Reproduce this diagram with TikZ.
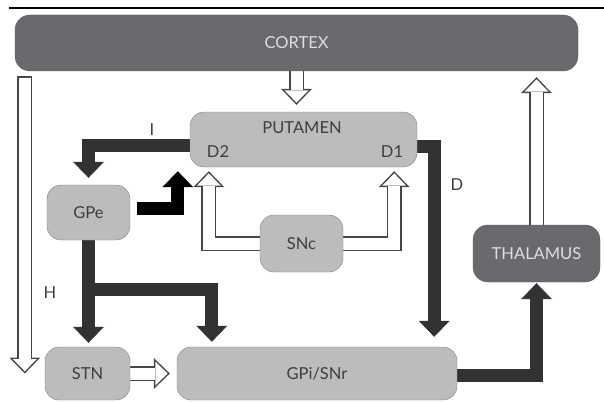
\documentclass[tikz,border=0pt]{standalone}
\usepackage{fontspec}
\setmainfont{Lato}
\usetikzlibrary{arrows.meta,backgrounds,positioning}
\definecolor{boxdark}{RGB}{106,106,110}
\definecolor{boxlight}{RGB}{188,188,190}
\definecolor{boxedge}{RGB}{128,128,130}
\definecolor{boxtext}{RGB}{222,222,222}
\definecolor{labelgray}{RGB}{62,62,62}
\definecolor{fatgray}{RGB}{50,50,50}
\definecolor{edgegray}{RGB}{70,70,70}

% hollow block arrow: outline pass, then white pass
\newcommand{\openarrow}[3][0pt]{%
  \draw[hollowedge,shorten >=#2] #3;
  \draw[hollowfill,shorten >=#2+2.16pt,shorten <=#1] #3;}

\begin{document}
\begin{tikzpicture}[x=1pt,y=-1pt,font=\fontsize{16.5}{18}\selectfont,
  darkbox/.style={draw=boxdark!85!black,fill=boxdark,text=boxtext,rounded corners=15pt,inner sep=0pt},
  lightbox/.style={draw=boxedge,fill=boxlight,text=labelgray,rounded corners=14pt,inner sep=0pt},
  fat/.style={line width=13pt,draw=fatgray,-{Triangle[width=31pt,length=16pt,line width=0pt]}},
  hollowedge/.style={line width=15pt,draw=edgegray,-{Triangle[width=31pt,length=16pt,line width=0pt]}},
  hollowfill/.style={line width=12pt,draw=white,-{Triangle[width=23.9pt,length=12.34pt,line width=0pt]}}]
  \useasboundingbox (0,0) rectangle (604,401);
  \draw[line width=2pt] (9,8) -- (604,8);

  % boxes
  \node[darkbox,minimum width=563pt,minimum height=56pt] (cortex) at (296.5,43) {CORTEX};
  \node[lightbox,minimum width=227pt,minimum height=55pt] (putamen) at (303.5,139.5) {};
  \node[text=labelgray] (putlabel) at (302,128) {PUTAMEN};
  \node[text=labelgray] (d2) at (218,152) {D2};
  \node[text=labelgray] (d1) at (392,152) {D1};
  \node[lightbox,minimum width=83pt,minimum height=55pt] (gpe) at (88.5,212.5) {GPe};
  \node[lightbox,minimum width=83pt,minimum height=57pt] (snc) at (301.5,243.5) {SNc};
  \node[darkbox,minimum width=127pt,minimum height=57pt] (thalamus) at (536.5,253.5) {THALAMUS};
  \node[lightbox,minimum width=85pt,minimum height=53pt] (stn) at (87.5,373.5) {STN};
  \node[lightbox,minimum width=280pt,minimum height=53pt] (gpi) at (317,373.5) {GPi/SNr};

  % pathway labels
  \node[text=labelgray] (ilabel) at (152,130) {I};
  \node[text=labelgray] (dlabel) at (457,185) {D};
  \node[text=labelgray] (hlabel) at (50,293) {H};

  \coordinate (htop) at ([xshift=10pt,yshift=-5pt]cortex.south west);
  \coordinate (d2in) at ([xshift=19pt]putamen.south west);
  \coordinate (d1in) at ([xshift=-23pt]putamen.south east);
  \coordinate (d2side) at ([xshift=-12pt]putamen.south west);
  \coordinate (gpitop) at ([xshift=-23pt]gpi.north east);
  \coordinate (gpejoin) at ([yshift=-49pt]gpe.south);
  \coordinate (gpiin) at ([xshift=35pt]gpi.north west);

  \begin{scope}[on background layer]
    % open arrows
    \openarrow{7pt}{(cortex.south) -- (cortex.south |- putamen.north)}
    \openarrow{6pt}{(thalamus.north) -- (thalamus.north |- cortex.south)}
    \openarrow[1.5pt]{0pt}{(htop) -- (htop |- stn.center)}
    \openarrow{4pt}{(snc.west) -| (d2in)}
    \openarrow{4pt}{(snc.east) -| (d1in)}
    \openarrow{7pt}{(stn.east) -- (gpi.west)}

    % filled arrows
    \draw[fat,shorten >=7pt] ([yshift=-5.5pt]putamen.west) -| (gpe.north);
    \draw[fat,draw=black,shorten >=4pt] ([shift={(7pt,4pt)}]gpe.east) -| (d2side);
    \draw[fat,shorten >=10pt] ([yshift=-7pt]putamen.east) -| (gpitop);
    \draw[fat,shorten >=4pt] (gpe.south) -- (gpe.south |- stn.north);
    \draw[fat,shorten >=5pt] (gpejoin) -| (gpiin);
    \draw[fat,shorten >=1pt] ([yshift=-2pt]gpi.east) -| (thalamus.south);
  \end{scope}
\end{tikzpicture}
\end{document}
